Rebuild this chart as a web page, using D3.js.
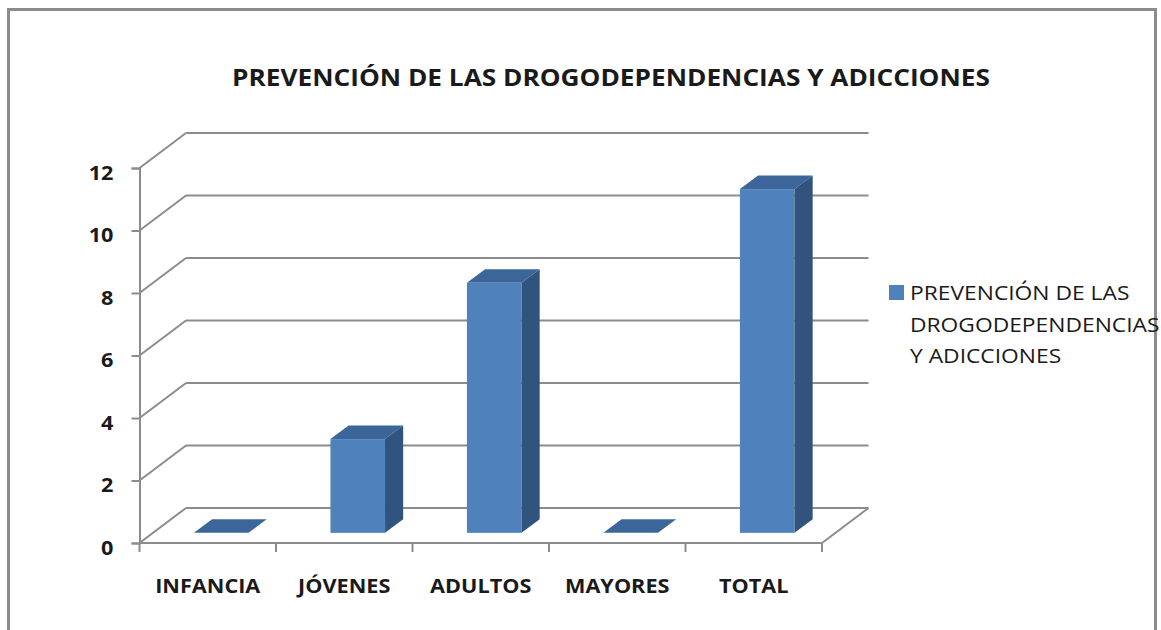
<!DOCTYPE html>
<html>
<head>
<meta charset="utf-8">
<script src="https://cdn.jsdelivr.net/npm/d3@7"></script>
<style>
  body { margin: 0; background: #fff; }
  text { font-family: "Open Sans", sans-serif; fill: #1a1a1a; }
</style>
</head>
<body>
<script>
// chart data
var categories = ["INFANCIA", "JÓVENES", "ADULTOS", "MAYORES", "TOTAL"];
var values = [0, 3, 8, 0, 11];
var yTicks = [0, 2, 4, 6, 8, 10, 12];
var chartTitle = "PREVENCIÓN DE LAS DROGODEPENDENCIAS Y ADICCIONES";
var legendLines = ["PREVENCIÓN DE LAS", "DROGODEPENDENCIAS", "Y ADICCIONES"];

var W = 1161, H = 630;
var gridColor = "#8c8c8c";
var widen = 1.14;  // the original font runs wider than Open Sans

// depth of the 3d box, and where the bars sit in it
var depth = {dx: 46.5, dy: -35};
var barFront = 0.29, barBack = 0.68;

function stretch(sel) {
    sel.each(function () {
        var w = this.getComputedTextLength();
        d3.select(this)
            .attr("textLength", w * widen)
            .attr("lengthAdjust", "spacingAndGlyphs");
    });
}

var svg = d3.select("body").append("svg")
    .attr("width", W)
    .attr("height", H);

// chart border
svg.append("rect")
    .attr("x", 8.5).attr("y", 9.5)
    .attr("width", 1147).attr("height", 640)
    .attr("fill", "none")
    .attr("stroke", gridColor)
    .attr("stroke-width", 3);

var x = d3.scaleBand()
    .domain(categories)
    .range([139.5, 822])
    .paddingInner(0.6)
    .paddingOuter(0.3);

var y = d3.scaleLinear()
    .domain([0, 12])
    .range([543, 168]);

var xs = x.range(), x0 = xs[0], x1 = xs[1];

// back wall gridlines
svg.append("g").selectAll("line.back")
    .data(yTicks)
    .enter().append("line")
    .attr("x1", x0 + depth.dx)
    .attr("x2", x1 + depth.dx)
    .attr("y1", function (d) { return y(d) + depth.dy; })
    .attr("y2", function (d) { return y(d) + depth.dy; })
    .attr("stroke", gridColor)
    .attr("stroke-width", 2);

// side wall diagonals
svg.append("g").selectAll("line.side")
    .data(yTicks)
    .enter().append("line")
    .attr("x1", x0)
    .attr("x2", x0 + depth.dx)
    .attr("y1", function (d) { return y(d); })
    .attr("y2", function (d) { return y(d) + depth.dy; })
    .attr("stroke", gridColor)
    .attr("stroke-width", 2);

// floor: front edge and right diagonal
svg.append("line")
    .attr("x1", x0).attr("x2", x1)
    .attr("y1", y(0)).attr("y2", y(0))
    .attr("stroke", gridColor).attr("stroke-width", 2);
svg.append("line")
    .attr("x1", x1).attr("x2", x1 + depth.dx)
    .attr("y1", y(0)).attr("y2", y(0) + depth.dy)
    .attr("stroke", gridColor).attr("stroke-width", 2);

// y axis on the front plane
var yAxis = svg.append("g")
    .attr("transform", "translate(" + x0 + ",0)")
    .call(d3.axisLeft(y).tickValues(yTicks).tickSize(8).tickPadding(18));
yAxis.select(".domain").attr("stroke", gridColor).attr("stroke-width", 2);
yAxis.selectAll(".tick line").attr("stroke", gridColor).attr("stroke-width", 2);
yAxis.selectAll(".tick text")
    .attr("font-size", 19)
    .attr("font-weight", "bold")
    .attr("font-family", "Open Sans")
    .attr("fill", "#1a1a1a")
    .attr("dy", "0.6em")
    .call(stretch);

// x axis ticks at the band edges
var edges = categories.map(function (c) { return x(c) - x.step() * 0.3; });
edges.push(x1);
svg.append("g").selectAll("line.xtick")
    .data(edges)
    .enter().append("line")
    .attr("x1", function (d) { return d; })
    .attr("x2", function (d) { return d; })
    .attr("y1", y(0))
    .attr("y2", y(0) + 9)
    .attr("stroke", gridColor)
    .attr("stroke-width", 2);

svg.append("g").selectAll("text.cat")
    .data(categories)
    .enter().append("text")
    .attr("x", function (d) { return x(d) + x.bandwidth() / 2; })
    .attr("y", 593)
    .attr("text-anchor", "middle")
    .attr("font-size", 19)
    .attr("font-weight", "bold")
    .text(function (d) { return d; })
    .call(stretch);

// 3d bars
var fdx = depth.dx * barFront, fdy = depth.dy * barFront;
var bdx = depth.dx * (barBack - barFront), bdy = depth.dy * (barBack - barFront);
var bars = svg.append("g").selectAll("g.bar")
    .data(categories)
    .enter().append("g")
    .attr("class", "bar");

bars.append("rect")
    .attr("x", function (d) { return x(d) + fdx; })
    .attr("y", function (d, i) { return y(values[i]) + fdy; })
    .attr("width", x.bandwidth())
    .attr("height", function (d, i) { return y(0) - y(values[i]); })
    .attr("fill", "#4f81bd");

bars.append("polygon")
    .attr("points", function (d, i) {
        var l = x(d) + fdx, r = l + x.bandwidth(), t = y(values[i]) + fdy;
        return [[l, t], [r, t], [r + bdx, t + bdy], [l + bdx, t + bdy]].join(" ");
    })
    .attr("fill", "#3c6699");

bars.append("polygon")
    .attr("points", function (d, i) {
        var r = x(d) + fdx + x.bandwidth(), t = y(values[i]) + fdy, b = y(0) + fdy;
        return [[r, t], [r + bdx, t + bdy], [r + bdx, b + bdy], [r, b]].join(" ");
    })
    .attr("fill", "#31547e");

// title
svg.append("text")
    .attr("x", 611)
    .attr("y", 86)
    .attr("text-anchor", "middle")
    .attr("font-size", 23)
    .attr("font-weight", "bold")
    .text(chartTitle)
    .call(stretch);

// legend
var legend = svg.append("g").attr("transform", "translate(889,285)");
legend.append("rect")
    .attr("width", 15).attr("height", 15)
    .attr("fill", "#4f81bd");
legend.selectAll("text")
    .data(legendLines)
    .enter().append("text")
    .attr("x", 21)
    .attr("y", function (d, i) { return 15 + i * 31.5; })
    .attr("font-size", 20)
    .text(function (d) { return d; })
    .call(stretch);
</script>
</body>
</html>
